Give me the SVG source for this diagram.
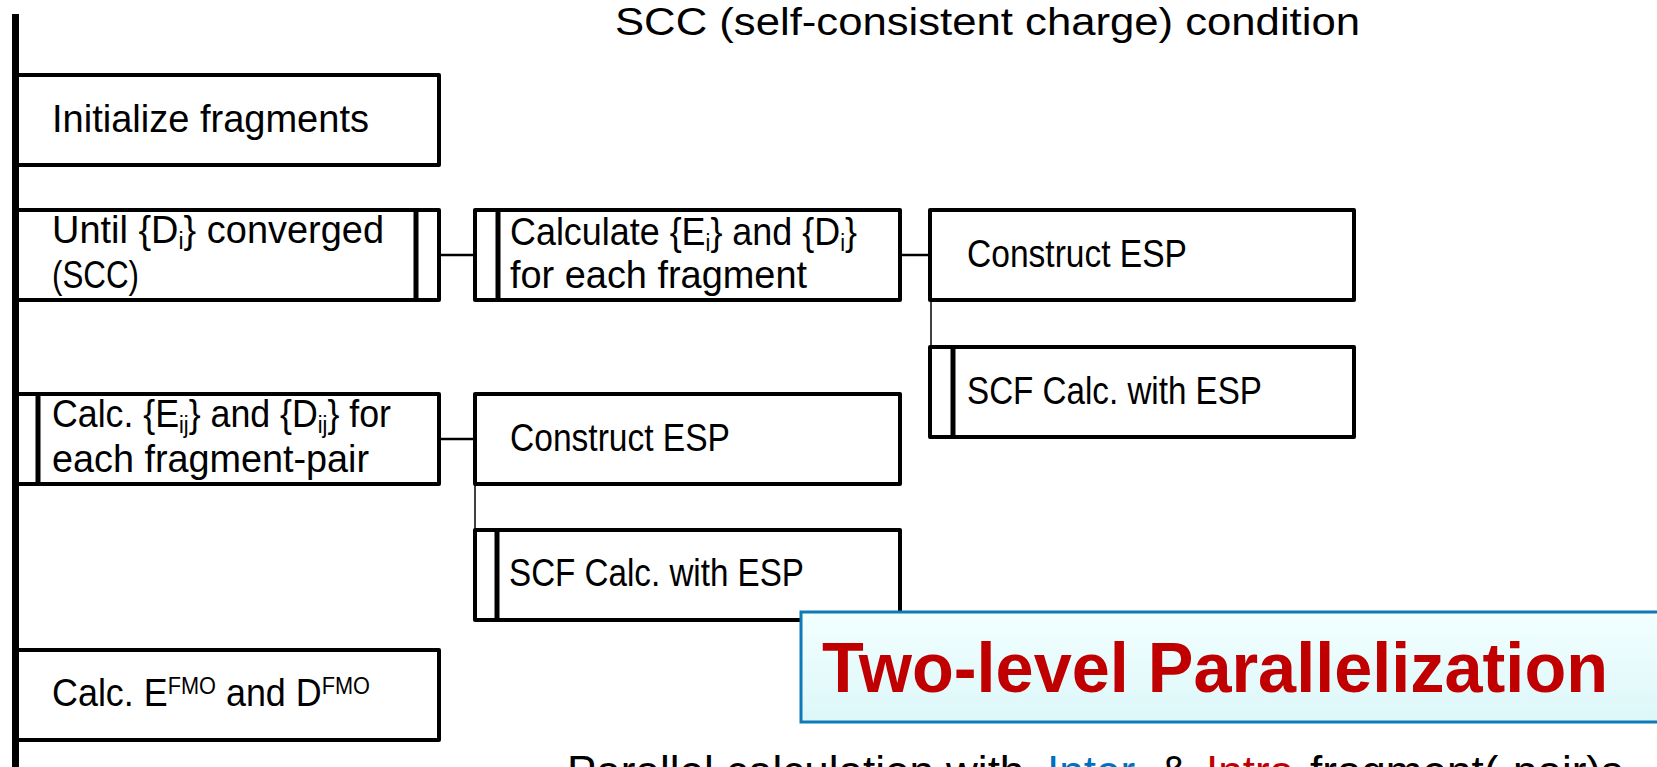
<svg xmlns="http://www.w3.org/2000/svg" width="1657" height="767" viewBox="0 0 1657 767">
<style>
  .box { fill: #ffffff; stroke: #000000; stroke-width: 4; stroke-linejoin: round; }
  .bar { stroke: #000000; stroke-width: 5; }
  .conn { stroke: #000000; stroke-width: 2.5; fill: none; }
  .vconn { stroke: #000000; stroke-width: 1.5; fill: none; }
  .t { font-family: "Liberation Sans", Arial, sans-serif; font-size: 38px; fill: #000000; }
  .sub { font-size: 23px; }
  .sup { font-size: 23px; }
  .big { font-family: "Liberation Sans", Arial, sans-serif; font-weight: bold; font-size: 70px; fill: #c00000; }
  .note { font-family: "Liberation Sans", Arial, sans-serif; font-size: 44px; fill: #000000; }
</style>
<defs>
  <linearGradient id="cyan" x1="0" y1="0" x2="0" y2="1">
    <stop offset="0" stop-color="#f3ffff"/>
    <stop offset="1" stop-color="#dcf7f9"/>
  </linearGradient>
</defs>

<rect x="0" y="0" width="1657" height="767" fill="#ffffff"/>

<text class="t" x="615" y="35" textLength="745" lengthAdjust="spacingAndGlyphs">SCC (self-consistent charge) condition</text>

<g id="connectors">
  <line class="conn" x1="439" y1="255" x2="475" y2="255"/>
  <line class="conn" x1="900" y1="255" x2="930" y2="255"/>
  <line class="vconn" x1="931" y1="300" x2="931" y2="347"/>
  <line class="conn" x1="439" y1="439" x2="475" y2="439"/>
  <line class="vconn" x1="475" y1="484" x2="475" y2="530"/>
</g>

<g id="n-init">
  <rect class="box" x="16" y="75" width="423" height="90"/>
  <text class="t" x="52" y="132" textLength="317" lengthAdjust="spacingAndGlyphs">Initialize fragments</text>
</g>

<g id="n-until">
  <rect class="box" x="16" y="210" width="423" height="90"/>
  <line class="bar" x1="416" y1="210" x2="416" y2="300"/>
  <text class="t" x="52" y="243" textLength="332" lengthAdjust="spacingAndGlyphs">Until {D<tspan class="sub" dy="6">i</tspan><tspan dy="-6">} converged</tspan></text>
  <text class="t" x="52" y="288" textLength="87" lengthAdjust="spacingAndGlyphs">(SCC)</text>
</g>

<g id="n-calc-i">
  <rect class="box" x="475" y="210" width="425" height="90"/>
  <line class="bar" x1="498" y1="210" x2="498" y2="300"/>
  <text class="t" x="510" y="245" textLength="347" lengthAdjust="spacingAndGlyphs">Calculate {E<tspan class="sub" dy="6">i</tspan><tspan dy="-6">} and {D</tspan><tspan class="sub" dy="6">i</tspan><tspan dy="-6">}</tspan></text>
  <text class="t" x="510" y="288" textLength="297" lengthAdjust="spacingAndGlyphs">for each fragment</text>
</g>

<g id="n-esp1">
  <rect class="box" x="930" y="210" width="424" height="90"/>
  <text class="t" x="967" y="267" textLength="220" lengthAdjust="spacingAndGlyphs">Construct ESP</text>
</g>

<g id="n-scf1">
  <rect class="box" x="930" y="347" width="424" height="90"/>
  <line class="bar" x1="953" y1="347" x2="953" y2="437"/>
  <text class="t" x="967" y="404" textLength="295" lengthAdjust="spacingAndGlyphs">SCF Calc. with ESP</text>
</g>

<g id="n-calc-ij">
  <rect class="box" x="16" y="394" width="423" height="90"/>
  <line class="bar" x1="38" y1="394" x2="38" y2="484"/>
  <text class="t" x="52" y="427" textLength="339" lengthAdjust="spacingAndGlyphs">Calc. {E<tspan class="sub" dy="6">ij</tspan><tspan dy="-6">} and {D</tspan><tspan class="sub" dy="6">ij</tspan><tspan dy="-6">} for</tspan></text>
  <text class="t" x="52" y="472" textLength="317" lengthAdjust="spacingAndGlyphs">each fragment-pair</text>
</g>

<g id="n-esp2">
  <rect class="box" x="475" y="394" width="425" height="90"/>
  <text class="t" x="510" y="451" textLength="220" lengthAdjust="spacingAndGlyphs">Construct ESP</text>
</g>

<g id="n-scf2">
  <rect class="box" x="475" y="530" width="425" height="90"/>
  <line class="bar" x1="497" y1="530" x2="497" y2="620"/>
  <text class="t" x="509" y="586" textLength="295" lengthAdjust="spacingAndGlyphs">SCF Calc. with ESP</text>
</g>

<g id="n-fmo">
  <rect class="box" x="16" y="650" width="423" height="90"/>
  <text class="t" x="52" y="706" textLength="318" lengthAdjust="spacingAndGlyphs">Calc. E<tspan class="sup" dy="-12">FMO</tspan><tspan dy="12"> and D</tspan><tspan class="sup" dy="-12">FMO</tspan></text>
</g>

<g id="timeline">
  <line x1="15.5" y1="14" x2="15.5" y2="767" stroke="#000000" stroke-width="7"/>
</g>

<g id="n-twolevel">
  <rect x="801" y="612" width="900" height="110" fill="url(#cyan)" stroke="#0f78b6" stroke-width="3"/>
  <text class="big" x="822" y="692" textLength="786" lengthAdjust="spacingAndGlyphs">Two-level Parallelization</text>
</g>

<g id="note">
  <text class="note" y="787"><tspan x="567">Parallel calculation with </tspan><tspan x="1047" fill="#0070c0">Inter-</tspan><tspan x="1147"> &amp; </tspan><tspan x="1206" fill="#c00000">Intra-</tspan><tspan x="1310">fragment(-pair)s</tspan></text>
</g>
</svg>
